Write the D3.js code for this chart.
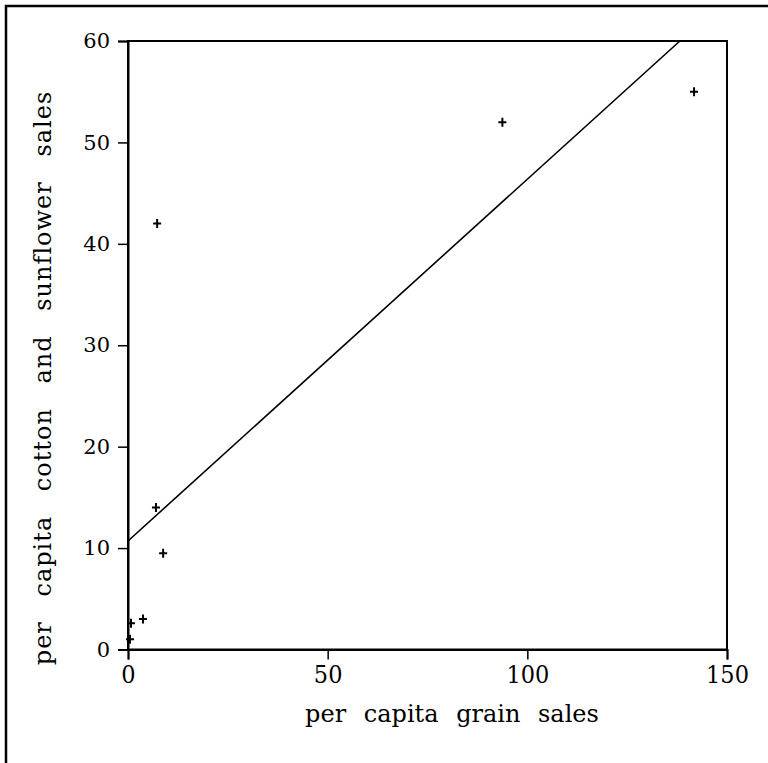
<!DOCTYPE html>
<html>
<head>
<meta charset="utf-8">
<script src="https://cdn.jsdelivr.net/npm/d3@7"></script>
<style>
  body { margin: 0; background: #fff; }
  svg { display: block; }
</style>
</head>
<body>
<svg width="768" height="763"></svg>
<script>
// scatter: grain sales vs cotton + sunflower sales, with fitted line

const grainSales = [0.5, 0.75, 3.75, 7.0, 8.8, 7.3, 93.75, 141.75];
const cottonSales = [1.0, 2.6, 3.0, 14.0, 9.5, 42.0, 52.0, 55.0];

// fitted line end points
const fitX = [0, 138.2];
const fitY = [10.7, 60];

const xTicks = [0, 50, 100, 150];
const yTicks = [0, 10, 20, 30, 40, 50, 60];

const xTitle = "per capita grain sales";
const yTitle = "per capita cotton and sunflower sales";

const svg = d3.select("svg");

const plotL = 128, plotR = 727, plotT = 41, plotB = 649.5;

const xScale = d3.scaleLinear().domain([0, 150]).range([plotL, plotR]);
const yScale = d3.scaleLinear().domain([0, 60]).range([plotB, plotT]);

// outer frame (runs off the page at right / bottom)
svg.append("rect")
  .attr("x", 6).attr("y", 6)
  .attr("width", 900).attr("height", 900)
  .attr("fill", "none")
  .attr("stroke", "#000")
  .attr("stroke-width", 2.5);

// box around the plot
svg.append("rect")
  .attr("x", plotL).attr("y", plotT)
  .attr("width", plotR - plotL).attr("height", plotB - plotT)
  .attr("fill", "none")
  .attr("stroke", "#000")
  .attr("stroke-width", 2);

const xAxisG = svg.append("g")
  .attr("transform", `translate(0, ${plotB})`)
  .call(d3.axisBottom(xScale).tickValues(xTicks).tickSize(10).tickPadding(6).tickFormat(d3.format("d")));

const yAxisG = svg.append("g")
  .attr("transform", `translate(${plotL}, 0)`)
  .call(d3.axisLeft(yScale).tickValues(yTicks).tickSize(10).tickPadding(8).tickFormat(d3.format("d")));

[xAxisG, yAxisG].forEach(g => {
  g.select(".domain").attr("stroke-width", 2);
  g.selectAll(".tick line").attr("stroke-width", 1.5);
});

xAxisG.selectAll("text")
  .attr("font-family", "'DejaVu Serif', serif")
  .attr("font-stretch", "condensed")
  .attr("font-size", 25)
  .attr("fill", "#000");

yAxisG.selectAll("text")
  .attr("font-family", "'DejaVu Serif', serif")
  .attr("font-size", 21)
  .attr("fill", "#000");

// fitted line
svg.append("line")
  .attr("x1", xScale(fitX[0])).attr("y1", yScale(fitY[0]))
  .attr("x2", xScale(fitX[1])).attr("y2", yScale(fitY[1]))
  .attr("stroke", "#000")
  .attr("stroke-width", 1.6);

// points as small plus signs
const pts = grainSales.map((g, i) => ({ x: g, y: cottonSales[i] }));

svg.selectAll("path.pt")
  .data(pts)
  .enter()
  .append("path")
  .attr("class", "pt")
  .attr("d", d => {
    const cx = xScale(d.x), cy = yScale(d.y);
    return `M${cx - 4},${cy}H${cx + 4}M${cx},${cy - 4.5}V${cy + 4.5}`;
  })
  .attr("stroke", "#000")
  .attr("stroke-width", 2);

// axis titles
svg.append("text")
  .attr("x", 452)
  .attr("y", 722)
  .attr("text-anchor", "middle")
  .attr("font-family", "'DejaVu Serif', serif")
  .attr("font-size", 24)
  .attr("word-spacing", 10)
  .text(xTitle);

svg.append("text")
  .attr("transform", "translate(51, 378) rotate(-90)")
  .attr("text-anchor", "middle")
  .attr("font-family", "'DejaVu Serif', serif")
  .attr("font-size", 24)
  .attr("letter-spacing", 1)
  .attr("word-spacing", 16)
  .text(yTitle);
</script>
</body>
</html>
